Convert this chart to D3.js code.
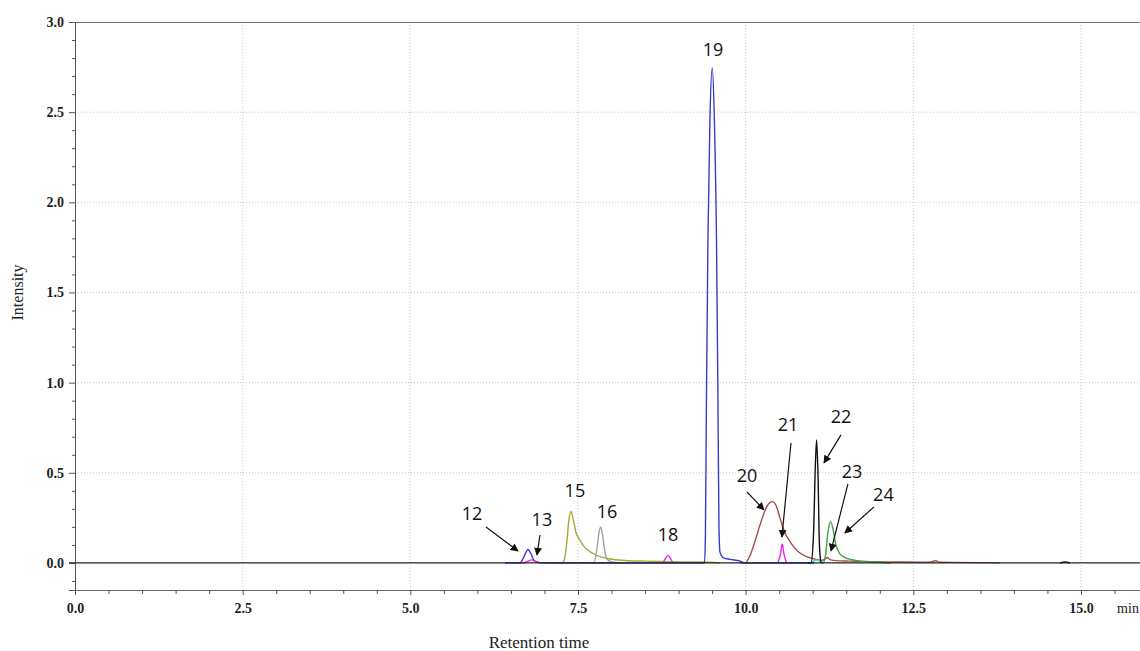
<!DOCTYPE html>
<html>
<head>
<meta charset="utf-8">
<script src="https://cdn.jsdelivr.net/npm/d3@7"></script>
<style>
html,body{margin:0;padding:0;background:#fff;}
svg{display:block;}
</style>
</head>
<body>
<svg id="chart" width="1140" height="651"></svg>
<script>
// ---- data (time in min, intensity) ----
const xMajorTicks = [0, 2.5, 5.0, 7.5, 10.0, 12.5, 15.0];
const yMajorTicks = [0, 0.5, 1.0, 1.5, 2.0, 2.5, 3.0];

const traceBlue = [[6.412,0],[6.635,0],[6.695,0.035],[6.754,0.075],[6.799,0.05],[6.843,0.015],[6.903,0.003],[7.008,0],
  [9.386,0],[9.400,0.15],[9.415,0.9],[9.438,1.8],[9.467,2.45],[9.502,2.745],[9.534,2.45],[9.565,1.8],[9.587,0.9],
  [9.602,0.2],[9.617,0.06],[9.662,0.03],[9.766,0.02],[9.915,0.01],[9.989,0],[11.02,0]];
const traceMagenta13 = [[6.613,0],[6.665,0],[6.739,0.008],[6.809,0.017],[6.873,0.008],[6.948,0]];
const traceMagenta18 = [[8.767,0],[8.812,0.03],[8.841,0.042],[8.871,0.03],[8.916,0]];
const traceMagenta21 = [[10.481,0],[10.519,0.05],[10.545,0.105],[10.571,0.05],[10.609,0]];
const traceOlive = [[7.214,0],[7.261,0],[7.298,0.02],[7.335,0.12],[7.365,0.24],[7.395,0.285],[7.425,0.25],[7.469,0.17],
  [7.530,0.125],[7.604,0.085],[7.679,0.063],[7.827,0.035],[7.976,0.022],[8.201,0.014],[8.498,0.01],[8.871,0.007],
  [9.319,0.005],[9.619,0]];
const traceGrey = [[7.715,0],[7.738,0],[7.783,0.08],[7.813,0.17],[7.838,0.198],[7.865,0.16],[7.894,0.08],[7.932,0.02],
  [8.007,0.005],[8.126,0]];
const traceBrown = [[9.919,0],[9.989,0],[10.064,0.04],[10.139,0.12],[10.213,0.21],[10.288,0.29],[10.347,0.33],[10.396,0.34],
  [10.452,0.32],[10.511,0.25],[10.571,0.18],[10.661,0.118],[10.780,0.063],[10.899,0.036],[11.048,0.02],[11.138,0.015],
  [11.183,0.02],[11.220,0.03],[11.257,0.018],[11.332,0.013],[11.555,0.01],[11.853,0.007],[12.301,0.005],[12.748,0.004],
  [12.832,0.012],[12.897,0.004],[13.493,0.002],[13.792,0]];
const traceBlack22 = [[10.921,0],[10.973,0],[11.011,0.15],[11.040,0.55],[11.058,0.682],[11.078,0.5],[11.100,0.1],[11.123,0]];
const traceBlackTail = [[14.686,0],[14.761,0.005],[14.836,0]];
const traceCyan = [[10.921,0],[10.973,0],[11.048,0.018],[11.108,0.012],[11.153,0]];
const traceGreen = [[11.122,0],[11.153,0],[11.190,0.04],[11.227,0.17],[11.265,0.229],[11.302,0.19],[11.339,0.11],[11.406,0.05],
  [11.480,0.03],[11.585,0.018],[11.705,0.01],[11.928,0.005],[12.152,0]];

const peakLabels = ["12","13","15","16","18","19","20","21","22","23","24"];
const peakLabelT = [5.919, 6.962, 7.454, 7.932, 8.841, 9.512, 10.019, 10.631, 11.421, 11.585, 12.054];
const peakLabelI = [0.2745, 0.241, 0.405, 0.286, 0.161, 2.848, 0.488, 0.771, 0.815, 0.510, 0.383];

const arrowIds = ["12","13","20","21","22","23","24"];
const arrowFrom = [[6.128,0.1996],[6.933,0.155],[10.019,0.394],[10.676,0.665],[11.421,0.710],[11.525,0.438],[11.913,0.311]];
const arrowTo   = [[6.605,0.0665],[6.888,0.044],[10.273,0.294],[10.541,0.144],[11.168,0.555],[11.272,0.0665],[11.480,0.166]];

// ---- drawing ----
const svg = d3.select("#chart");
const x = d3.scaleLinear().domain([0, 15.88]).range([75, 1140]);
const y = d3.scaleLinear().domain([-0.15, 3.0]).range([590, 22]);

const serif = "'Liberation Serif','Times New Roman',serif";
const sans = "'Open Sans','Noto Sans',sans-serif";

// grid
svg.append("g").selectAll("line").data(xMajorTicks.filter(d => d > 0)).join("line")
  .attr("x1", d => x(d)).attr("x2", d => x(d)).attr("y1", y(3.0)).attr("y2", y(-0.15))
  .attr("stroke", "#c8c8c8").attr("stroke-dasharray", "1,2").attr("stroke-width", 1);
svg.append("g").selectAll("line").data(yMajorTicks.filter(d => d > 0 && d < 3)).join("line")
  .attr("x1", x(0)).attr("x2", 1140).attr("y1", d => y(d)).attr("y2", d => y(d))
  .attr("stroke", "#c8c8c8").attr("stroke-dasharray", "1,2").attr("stroke-width", 1);

// top border
svg.append("line").attr("x1", x(0)).attr("x2", 1140).attr("y1", y(3.0)+0.5).attr("y2", y(3.0)+0.5)
  .attr("stroke", "#777").attr("stroke-width", 1);

// y axis
const yAxis = d3.axisLeft(y).tickValues(yMajorTicks).tickFormat(d3.format(".1f")).tickSize(6).tickPadding(5);
const gy = svg.append("g").attr("transform", `translate(${x(0)},0)`).call(yAxis);
gy.select(".domain").attr("stroke", "#555");
gy.selectAll(".tick line").attr("stroke", "#555");
gy.selectAll("text").attr("font-family", serif).attr("font-weight", "bold").attr("font-size", 14).attr("fill", "#222");
const yMinor = d3.range(-1, 31).map(i => i / 10).filter(v => Math.abs(v * 2 - Math.round(v * 2)) > 1e-6);
svg.append("g").attr("transform", `translate(${x(0)},0)`)
  .call(d3.axisLeft(y).tickValues(yMinor).tickFormat("").tickSize(3))
  .call(g => g.select(".domain").remove())
  .selectAll("line").attr("stroke", "#555");

// x axis
const xAxis = d3.axisBottom(x).tickValues(xMajorTicks).tickFormat(d3.format(".1f")).tickSize(5).tickPadding(8);
const gx = svg.append("g").attr("transform", `translate(0,${y(-0.15)})`).call(xAxis);
gx.select(".domain").attr("stroke", "#666").attr("d", `M${x(0)},0.5H1140`);
gx.selectAll(".tick line").attr("stroke", "#555");
gx.selectAll("text").attr("font-family", serif).attr("font-weight", "bold").attr("font-size", 14).attr("fill", "#222");
const xMinor = d3.range(1, 32).map(i => i / 2).filter(v => v % 2.5 !== 0);
svg.append("g").attr("transform", `translate(0,${y(-0.15)})`)
  .call(d3.axisBottom(x).tickValues(xMinor).tickFormat("").tickSize(4))
  .call(g => g.select(".domain").remove())
  .selectAll("line").attr("stroke", "#555");

svg.append("text").attr("x", 1128).attr("y", 613).attr("text-anchor", "middle")
  .attr("font-family", serif).attr("font-size", 14).attr("fill", "#222").text("min");

// axis titles
svg.append("text").attr("x", 539).attr("y", 648).attr("text-anchor", "middle")
  .attr("font-family", serif).attr("font-size", 17).attr("fill", "#222").text("Retention time");
svg.append("text").attr("transform", `translate(23,${y(1.5)}) rotate(-90)`).attr("text-anchor", "middle")
  .attr("font-family", serif).attr("font-size", 16).attr("fill", "#222").text("Intensity");

// traces
const line = d3.line().x(d => x(d[0])).y(d => y(d[1])).curve(d3.curveMonotoneX);
const traces = [
  [traceOlive, "#a8a83c"], [traceGrey, "#a0a0a0"], [traceBrown, "#a0504c"], [traceCyan, "#40c0c8"],
  [traceGreen, "#3ea23e"], [traceBlack22, "#111"], [traceBlackTail, "#111"], [traceBlue, "#3a3ad0"],
  [traceMagenta13, "#e02ce0"], [traceMagenta18, "#e02ce0"], [traceMagenta21, "#e02ce0"]
];
svg.append("g").selectAll("path").data(traces).join("path")
  .attr("d", d => line(d[0])).attr("fill", "none").attr("stroke", d => d[1]).attr("stroke-width", 1.4);

// zero line (on top of flat trace segments)
svg.append("line").attr("x1", x(0) - 6).attr("x2", 1140).attr("y1", y(0)).attr("y2", y(0))
  .attr("stroke", "#222").attr("stroke-width", 1.2);

// arrows
svg.append("defs").append("marker").attr("id", "ah").attr("viewBox", "0 0 10 10")
  .attr("refX", 9).attr("refY", 5).attr("markerWidth", 8).attr("markerHeight", 8)
  .attr("markerUnits", "userSpaceOnUse").attr("orient", "auto")
  .append("path").attr("d", "M0,0L10,5L0,10Z").attr("fill", "#111");
svg.append("g").selectAll("line").data(arrowIds).join("line")
  .attr("x1", (d, i) => x(arrowFrom[i][0])).attr("y1", (d, i) => y(arrowFrom[i][1]))
  .attr("x2", (d, i) => x(arrowTo[i][0])).attr("y2", (d, i) => y(arrowTo[i][1]))
  .attr("stroke", "#111").attr("stroke-width", 1.2).attr("marker-end", "url(#ah)");

// peak labels
svg.append("g").selectAll("text").data(peakLabels).join("text")
  .attr("x", (d, i) => x(peakLabelT[i])).attr("y", (d, i) => y(peakLabelI[i]))
  .attr("text-anchor", "middle").attr("dominant-baseline", "central")
  .attr("font-family", sans).attr("font-size", 18).attr("fill", "#111").text(d => d);
</script>
</body>
</html>
